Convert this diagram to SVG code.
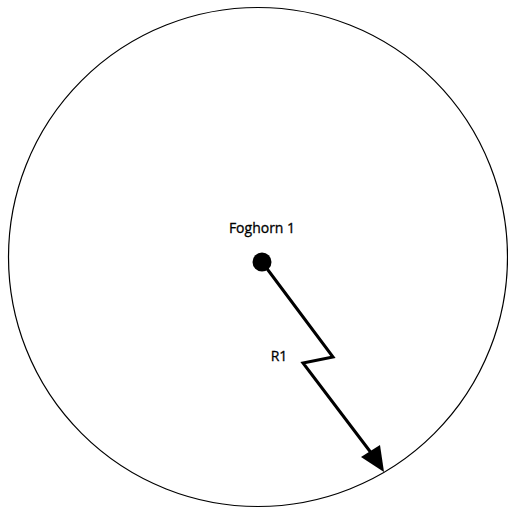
<svg xmlns="http://www.w3.org/2000/svg" width="508" height="510" viewBox="0 0 508 510">
<style>
text{font-family:"Open Sans","Liberation Sans",sans-serif;font-size:14px;fill:#000;stroke:#000;stroke-width:0.3}
.conn{fill:none;stroke:#000;stroke-width:3;stroke-linejoin:miter}
</style>
<rect width="508" height="510" fill="#fff"/>
<g id="range">
<circle cx="258" cy="257" r="249.5" fill="none" stroke="#000" stroke-width="1.2"/>
</g>
<g id="foghorn1">
<circle cx="262" cy="262" r="9.5" fill="#000"/>
<text x="262" y="233" text-anchor="middle">Foghorn 1</text>
</g>
<g id="connectors">
<polyline class="conn" points="262,262 333,357 303,363 372,454"/>
<polygon points="384,472 361,457 380,445" fill="#000"/>
<text x="279" y="361" text-anchor="middle">R1</text>
</g>
</svg>
